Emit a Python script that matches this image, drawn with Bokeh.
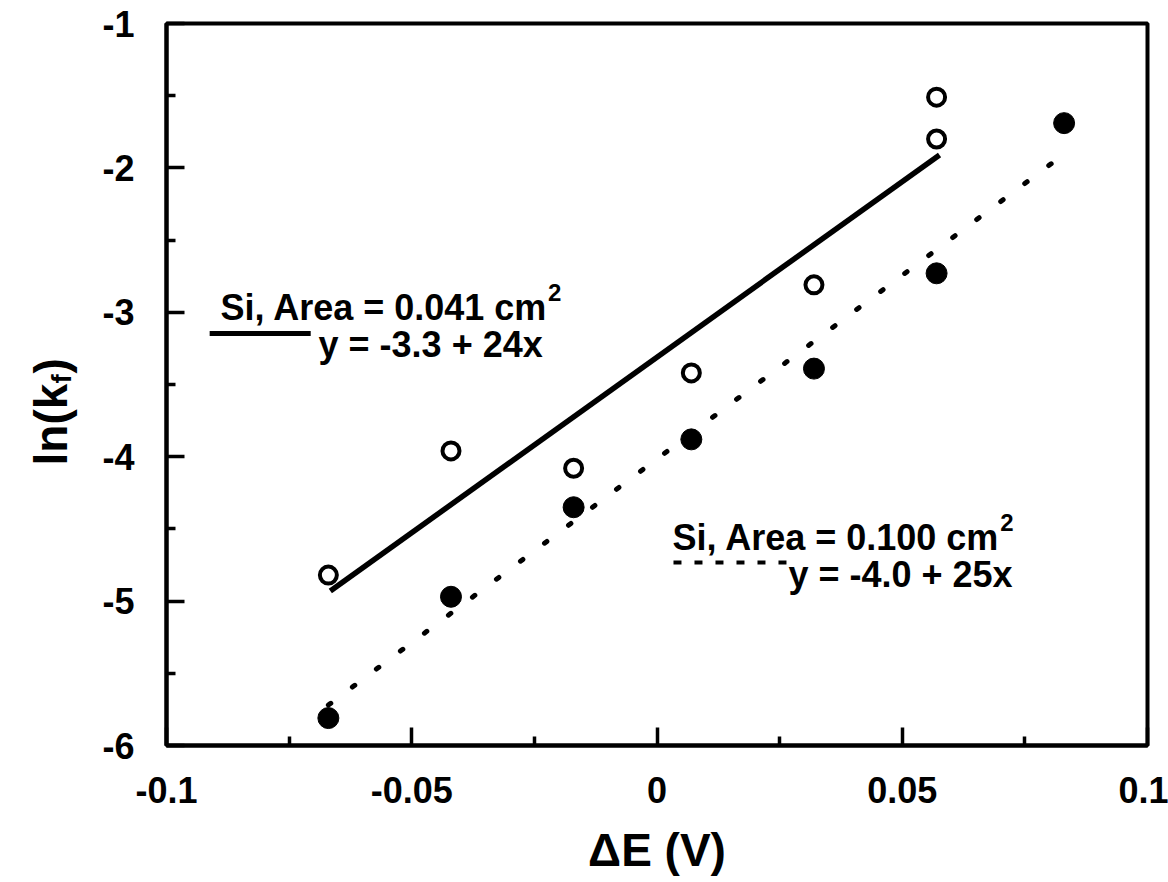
import math
from bokeh.plotting import figure
from bokeh.models import FixedTicker, Label, Range1d
from bokeh.layouts import row, column
from bokeh.core.properties import value
from bokeh.embed import file_html
from bokeh.resources import INLINE

# ---- data ----
x_open = [-0.067, -0.042, -0.017, 0.007, 0.032, 0.057, 0.057]
y_open = [-4.82, -3.96, -4.08, -3.42, -2.81, -1.80, -1.51]
x_filled = [-0.067, -0.042, -0.017, 0.007, 0.032, 0.057, 0.083]
y_filled = [-5.81, -4.97, -4.35, -3.88, -3.39, -2.73, -1.69]

# fitted lines (end points)
fit1_x = [-0.0666, 0.0576]
fit1_y = [-4.93, -1.91]
fit2_x = [-0.067, 0.0812]
fit2_y = [-5.72, -1.95]

x_ticks = [-0.1, -0.05, 0, 0.05, 0.1]
x_tick_labels = ["-0.1", "-0.05", "0", "0.05", "0.1"]
x_minor = [-0.075, -0.025, 0.025, 0.075]
y_ticks = [-6, -5, -4, -3, -2, -1]
y_tick_labels = ["-6", "-5", "-4", "-3", "-2", "-1"]
y_minor = [-5.5, -4.5, -3.5, -2.5, -1.5]

label1_a = "Si, Area = 0.041 cm"
label1_b = "y = -3.3 + 24x"
label2_a = "Si, Area = 0.100 cm"
label2_b = "y = -4.0 + 25x"
x_title = "\u0394E (V)"
y_title_parts = ["ln(k", "f", ")"]

FONT = "Liberation Sans"
W, H = 1168, 882
LW = 80          # strip holding the y title


def txt(f, x, y, s, size, angle=0.0, style="bold", align="left"):
    f.text(x=[x], y=[y], text=[s], angle=angle, text_font=value(FONT),
           text_font_style=style, text_font_size=size, text_align=align,
           text_baseline="alphabetic", text_color="black")


# ---------- y title strip ----------
ylab = figure(width=LW, height=H, output_backend="svg", title=None,
              toolbar_location=None, x_axis_location=None, y_axis_location=None,
              x_range=Range1d(0, LW), y_range=Range1d(0, H),
              min_border=0, min_border_left=0, min_border_right=0,
              min_border_top=0, min_border_bottom=0)
ylab.grid.visible = False
ylab.outline_line_color = None
ylab.background_fill_color = "white"
ylab.border_fill_color = "white"
txt(ylab, 50, H - 465, y_title_parts[0], "46px", angle=math.pi / 2)
txt(ylab, 61, H - 383, y_title_parts[1], "28px", angle=math.pi / 2)
txt(ylab, 50, H - 373, y_title_parts[2], "46px", angle=math.pi / 2)

# ---------- main plot ----------
p = figure(width=W - LW, height=H, output_backend="svg", toolbar_location=None,
           title=None,
           x_range=Range1d(-0.1, 0.1), y_range=Range1d(-6, -1),
           min_border_left=166 - LW, min_border_top=23, min_border_right=W - 1147,
           min_border_bottom=H - 745)
p.background_fill_color = "white"
p.border_fill_color = "white"
p.grid.visible = False
p.outline_line_color = "black"
p.outline_line_width = 4

for ax in (p.xaxis[0], p.yaxis[0]):
    ax.axis_line_width = 4
    ax.axis_line_color = "black"
    ax.major_tick_in = 18
    ax.major_tick_out = 0
    ax.minor_tick_in = 9
    ax.minor_tick_out = 0
    ax.major_tick_line_width = 3.5
    ax.minor_tick_line_width = 3.5
    ax.major_tick_line_color = "black"
    ax.minor_tick_line_color = "black"
    ax.major_label_text_font = FONT
    ax.major_label_text_font_style = "bold"
    ax.major_label_text_font_size = "36px"
    ax.major_label_text_color = "black"

p.xaxis[0].ticker = FixedTicker(ticks=x_ticks, minor_ticks=x_minor)
p.xaxis[0].major_label_overrides = {t: s for t, s in zip(x_ticks, x_tick_labels)}
p.xaxis[0].major_label_standoff = 31
p.xaxis[0].axis_label = x_title
p.xaxis[0].axis_label_text_font = FONT
p.xaxis[0].axis_label_text_font_style = "bold"
p.xaxis[0].axis_label_text_font_size = "46px"
p.xaxis[0].axis_label_text_color = "black"
p.xaxis[0].axis_label_standoff = 18

p.yaxis[0].ticker = FixedTicker(ticks=y_ticks, minor_ticks=y_minor)
p.yaxis[0].major_label_overrides = {t: s for t, s in zip(y_ticks, y_tick_labels)}
p.yaxis[0].major_label_standoff = 32

# fit lines
p.line(fit1_x, fit1_y, line_color="black", line_width=5.5)
p.line(fit2_x, fit2_y, line_color="black", line_width=5, line_dash="3 27",
       line_cap="round")

# markers
p.scatter(x_open, y_open, marker="circle", size=17, fill_color="white",
          line_color="black", line_width=4)
p.scatter(x_filled, y_filled, marker="circle", size=21, fill_color="black",
          line_color="black")


def lab(x, y, text, size):
    p.add_layout(Label(x=x, y=y, text=text, text_font=FONT, text_font_style="bold",
                       text_font_size=size, text_color="black",
                       text_align="left", text_baseline="alphabetic"))


lab(-0.0890, -2.967, label1_a, "36px")
lab(-0.0890 + 0.0668, -2.865, "2", "24px")
lab(-0.0690, -3.223, label1_b, "36px")
p.line([-0.0912, -0.0706], [-3.147, -3.147], line_color="black", line_width=5)

lab(0.00316, -4.560, label2_a, "36px")
lab(0.00316 + 0.0668, -4.458, "2", "24px")
lab(0.0268, -4.816, label2_b, "36px")
p.line([0.00336, 0.0266], [-4.733, -4.733], line_color="black", line_width=4,
       line_dash="8 13")

layout = row(column(ylab), column(p))
open("out.html", "w").write(file_html(layout, INLINE))
